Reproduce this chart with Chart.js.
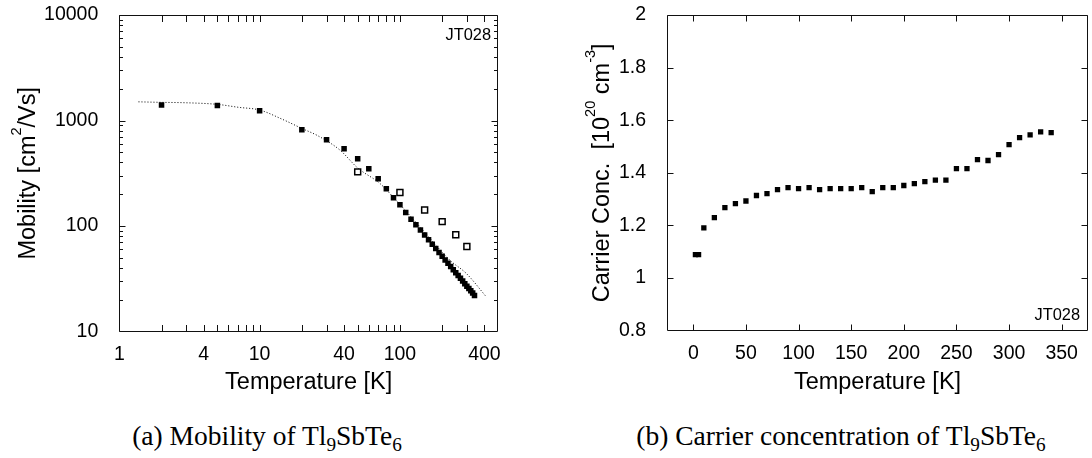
<!DOCTYPE html>
<html><head><meta charset="utf-8">
<script src="https://cdn.jsdelivr.net/npm/chart.js@4/dist/chart.umd.min.js"></script>
<style>
html,body{margin:0;padding:0;background:#fff;width:1092px;height:458px;overflow:hidden}
#ca{position:absolute;left:0;top:0}
#cb{position:absolute;left:540px;top:0}
.cap{position:absolute;font-family:"Liberation Serif","Times New Roman",serif;font-size:27.5px;color:#000;white-space:nowrap;transform:translateX(-50%);line-height:30px}
.cap sub{font-size:70%;vertical-align:-0.3em;line-height:0}
</style></head><body>
<canvas id="ca" width="540" height="400"></canvas>
<canvas id="cb" width="552" height="400"></canvas>
<div class="cap" style="left:267px;top:421px">(a) Mobility of Tl<sub>9</sub>SbTe<sub>6</sub></div>
<div class="cap" style="left:841px;top:421px">(b) Carrier concentration of Tl<sub>9</sub>SbTe<sub>6</sub></div>
<script>
// ---------- data (a) mobility ----------
const mobT = [2,5,10,20,30,40,50,60,70,80,90,100,110,120,130,140,150,160,170,180,190,200,210,220,230,240,250,260,270,280,290,300,310,320,330,340];
const mobMu = [1400,1390,1240,818,658,541,434,349,281,226,185,159,134,116,103,91.6,82.0,74.0,67.2,61.2,56.1,51.7,47.7,44.3,41.3,38.5,36.1,33.9,31.9,30.1,28.4,26.9,25.6,24.3,23.2,21.9];
const mobOpenT = [50,100,150,200,250,300];
const mobOpenMu = [326,208,142,110,82.5,64];
const fitT = [1.37,2,2.86,5,7.06,10,14.4,20,26.3,37.4,50,72,84.9,139,227,298,414];
const fitMu = [1503,1486,1475,1422,1334,1257,1032,841,711,524,355,253,203,98,47.4,35.4,21.2];
const mobXTicks = [1,4,10,40,100,400];
const mobYTicks = [10,100,1000,10000];
// ---------- data (b) carrier concentration ----------
const concT = [2,5,10,20,30,40,50,60,70,80,90,100,110,120,130,140,150,160,170,180,190,200,210,220,230,240,250,260,270,280,290,300,310,320,330,340];
const concN = [1.089,1.089,1.191,1.230,1.268,1.283,1.293,1.314,1.321,1.336,1.344,1.340,1.344,1.336,1.340,1.340,1.340,1.344,1.329,1.344,1.344,1.352,1.359,1.367,1.372,1.372,1.416,1.416,1.450,1.447,1.469,1.507,1.534,1.544,1.556,1.553];
const concXTicks = [0,50,100,150,200,250,300,350];
const concYTicks = [0.8,1,1.2,1.4,1.6,1.8,2];

const SANS = '"Liberation Sans", Arial, Helvetica, sans-serif';
const TICKFONT = {family: SANS, size: 19.5};
const TITLEFONT = {family: SANS, size: 23.5};

function pts(xs, ys){ return xs.map((x,i)=>({x:x, y:ys[i]})); }

function drawVTitle(ctx, cx, cy, parts, size){
  ctx.save();
  ctx.translate(cx, cy);
  ctx.rotate(-Math.PI/2);
  ctx.fillStyle = '#000';
  ctx.textBaseline = 'alphabetic';
  ctx.textAlign = 'left';
  const supSize = size*0.62;
  const widths = [];
  let total = 0;
  parts.forEach(p=>{ ctx.font = (p.sup?supSize:size) + 'px ' + SANS; const w = ctx.measureText(p.t).width; widths.push(w); total += w; });
  let x = -total/2;
  const base = 0.3465*size;
  parts.forEach((p,i)=>{
    ctx.font = (p.sup?supSize:size) + 'px ' + SANS;
    ctx.fillText(p.t, x, p.sup ? base - 0.6*size : base);
    x += widths[i];
  });
  ctx.restore();
}

function framePlugin(cfg){
  return {
    id: 'frame_' + cfg.name,
    afterDatasetsDraw(chart){
      const ctx = chart.ctx, a = chart.chartArea;
      const xs = chart.scales.x, ys = chart.scales.y;
      ctx.save();
      ctx.strokeStyle = '#111';
      ctx.lineWidth = 1;
      ctx.beginPath();
      const L = Math.round(a.left)+0.5, R = Math.round(a.right)-0.5, T = Math.round(a.top)+0.5, B = Math.round(a.bottom)-0.5;
      ctx.rect(L, T, R-L, B-T);
      cfg.xTicks.forEach(t=>{
        const p = Math.round(xs.getPixelForValue(t.v))+0.5;
        if (p < L-0.1 || p > R+0.1) return;
        ctx.moveTo(p, B); ctx.lineTo(p, B - t.len);
        ctx.moveTo(p, T); ctx.lineTo(p, T + t.len);
      });
      cfg.yTicks.forEach(t=>{
        const p = Math.round(ys.getPixelForValue(t.v))+0.5;
        if (p < T-0.1 || p > B+0.1) return;
        ctx.moveTo(L, p); ctx.lineTo(L + t.len, p);
        ctx.moveTo(R, p); ctx.lineTo(R - t.len, p);
      });
      ctx.stroke();
      ctx.fillStyle = '#000';
      ctx.font = '16.4px ' + SANS;
      ctx.textAlign = 'right';
      ctx.textBaseline = 'middle';
      ctx.fillText(cfg.label.text, cfg.label.x, cfg.label.y);
      ctx.restore();
      drawVTitle(ctx, cfg.ytitle.x, (a.top + a.bottom)/2, cfg.ytitle.parts, TITLEFONT.size);
    }
  };
}

const mobXMarks = [];
[1,10,100].forEach(d=>{ for(let k=1;k<=9;k++){ const v=k*d; if(v<=500) mobXMarks.push({v:v,len:6.5}); } });
const mobYMarks = [];
[10,100,1000].forEach(d=>{ for(let k=1;k<=9;k++){ mobYMarks.push({v:k*d,len:k===1?6:3.5}); } });
mobYMarks.push({v:10000,len:6});
const concXMarks = concXTicks.map(v=>({v:v,len:6}));
const concYMarks = concYTicks.map(v=>({v:v,len:6}));

const common = {
  responsive: false,
  animation: false,
  events: [],
  plugins: {legend:{display:false}, tooltip:{enabled:false}}
};

function fixY(w){ return s => { s.width = w; s.paddingTop = 0; s.paddingBottom = 0; }; }

new Chart(document.getElementById('ca'), {
  type: 'scatter',
  data: {
    datasets: [
      {type:'line', data: pts(fitT, fitMu), borderColor:'#000', borderWidth:1, borderDash:[1,2],
       pointRadius:0, showLine:true, fill:false, cubicInterpolationMode:'monotone', order:3},
      {data: pts(mobOpenT, mobOpenMu), pointStyle:'rect', pointRadius:4.2, backgroundColor:'#fff',
       borderColor:'#000', borderWidth:1.5, order:2},
      {data: pts(mobT, mobMu), pointStyle:'rect', pointRadius:3.9, backgroundColor:'#000',
       borderWidth:0, order:1}
    ]
  },
  options: Object.assign({}, common, {
    layout: {padding: {left:0, right:42, top:15, bottom:2.9}},
    scales: {
      x: {
        type:'logarithmic', min:1, max:500,
        afterBuildTicks: s => { s.ticks = mobXTicks.map(v=>({value:v})); },
        afterFit: s => { s.height = 65.6; },
        ticks: {callback: v => String(v), font: TICKFONT, color:'#000', padding:3, autoSkip:false, maxRotation:0},
        grid: {display:false}, border: {display:false},
        title: {display:true, text:'Temperature [K]', font: TITLEFONT, color:'#000', padding:{top:0,bottom:0}}
      },
      y: {
        type:'logarithmic', min:10, max:10000,
        afterBuildTicks: s => { s.ticks = mobYTicks.map(v=>({value:v})); },
        afterFit: fixY(119.3),
        ticks: {callback: v => String(v), font: TICKFONT, color:'#000', padding:13, autoSkip:false},
        grid: {display:false}, border: {display:false},
        title: {display:false, text:'Mobility [cm2/Vs]'}
      }
    }
  }),
  plugins: [framePlugin({name:'a', xTicks: mobXMarks, yTicks: mobYMarks,
    label:{text:'JT028', x:491, y:35.7},
    ytitle:{x:26.5, parts:[{t:'Mobility [cm'},{t:'2',sup:true},{t:'/Vs]'}]}})]
});

new Chart(document.getElementById('cb'), {
  type: 'scatter',
  data: {
    datasets: [
      {data: pts(concT, concN), pointStyle:'rect', pointRadius:3.75, backgroundColor:'#000', borderWidth:0}
    ]
  },
  options: Object.assign({}, common, {
    layout: {padding: {left:0, right:0, top:15, bottom:3.7}},
    scales: {
      x: {
        type:'linear', min:-25, max:375,
        afterBuildTicks: s => { s.ticks = concXTicks.map(v=>({value:v})); },
        afterFit: s => { s.height = 65.6; },
        ticks: {callback: v => String(v), font: TICKFONT, color:'#000', padding:3, autoSkip:false, maxRotation:0},
        grid: {display:false}, border: {display:false},
        title: {display:true, text:'Temperature [K]', font: TITLEFONT, color:'#000', padding:{top:0,bottom:0}}
      },
      y: {
        type:'linear', min:0.8, max:2,
        afterBuildTicks: s => { s.ticks = concYTicks.map(v=>({value:v})); },
        afterFit: fixY(127),
        ticks: {callback: v => String(v), font: TICKFONT, color:'#000', padding:13, autoSkip:false},
        grid: {display:false}, border: {display:false},
        title: {display:false, text:'Carrier Conc. [10^20 cm^-3]'}
      }
    }
  }),
  plugins: [framePlugin({name:'b', xTicks: concXMarks, yTicks: concYMarks,
    label:{text:'JT028', x:540, y:315},
    ytitle:{x:61, parts:[{t:'Carrier Conc.  [10'},{t:'20',sup:true},{t:' cm'},{t:'-3',sup:true},{t:']'}]}})]
});
</script>
</body></html>
